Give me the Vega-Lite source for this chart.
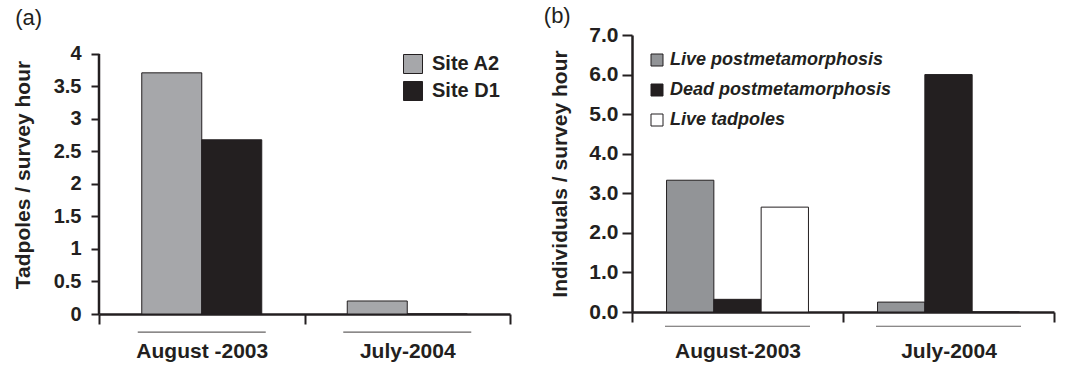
{
  "$schema": "https://vega.github.io/schema/vega-lite/v6.json",
  "padding": {"left": 12, "top": 5, "right": 5, "bottom": 5},
  "background": "white",
  "config": {
    "font": "Liberation Sans",
    "view": {"stroke": null},
    "axis": {
      "domainColor": "#231f20", "tickColor": "#231f20", "labelColor": "#231f20", "titleColor": "#231f20",
      "labelFont": "Liberation Sans", "titleFont": "Liberation Sans",
      "labelFontWeight": "bold", "titleFontWeight": "bold",
      "grid": false, "domainWidth": 2.5, "tickWidth": 2
    },
    "legend": {"labelFont": "Liberation Sans", "labelColor": "#231f20", "labelFontWeight": "bold", "symbolStrokeColor": "#231f20", "symbolStrokeWidth": 1, "symbolType": "square", "padding": 0},
    "title": {"font": "Liberation Sans", "fontWeight": "normal", "fontSize": 22, "anchor": "start", "color": "#231f20"}
  },
  "datasets": {
    "a": [
      {"period": "August -2003", "site": "Site A2", "value": 3.71},
      {"period": "August -2003", "site": "Site D1", "value": 2.68},
      {"period": "July-2004", "site": "Site A2", "value": 0.2},
      {"period": "July-2004", "site": "Site D1", "value": 0}
    ],
    "a_under": [{"period": "August -2003"}, {"period": "July-2004"}],
    "a_axis": [{"period": "August -2003", "low": 0, "high": 4}],
    "b": [
      {"period": "August-2003", "group": "Live postmetamorphosis", "value": 3.33},
      {"period": "August-2003", "group": "Dead postmetamorphosis", "value": 0.32},
      {"period": "August-2003", "group": "Live tadpoles", "value": 2.65},
      {"period": "July-2004", "group": "Live postmetamorphosis", "value": 0.25},
      {"period": "July-2004", "group": "Dead postmetamorphosis", "value": 6.0},
      {"period": "July-2004", "group": "Live tadpoles", "value": 0}
    ],
    "b_under": [{"period": "August-2003"}, {"period": "July-2004"}]
  },
  "resolve": {"scale": {"color": "independent", "x": "independent", "y": "independent", "xOffset": "independent"}, "legend": {"color": "independent"}},
  "columns": 2,
  "align": "none",
  "spacing": 32,
  "concat": [
    {
      "width": 411, "height": 279,
      "title": {"text": "(a)", "frame": "bounds", "dx": 3, "offset": 5},
      "layer": [
        {
          "data": {"name": "a"},
          "mark": {"type": "bar", "stroke": "#231f20", "strokeWidth": 1},
          "encoding": {
            "x": {"field": "period", "type": "nominal", "sort": null,
                  "scale": {"paddingInner": 0, "paddingOuter": 0},
                  "axis": {"title": null, "labelAngle": 0, "tickBand": "extent", "tickSize": 10, "labelPadding": 16, "labelFontSize": 21}},
            "xOffset": {"field": "site", "type": "nominal", "sort": null, "scale": {"paddingInner": 0, "paddingOuter": 0.7125}},
            "y": {"field": "value", "type": "quantitative", "scale": {"domain": [0, 4.292], "nice": false, "zero": false},
                  "axis": {"title": "Tadpoles / survey hour", "domain": false, "values": [0, 0.5, 1, 1.5, 2, 2.5, 3, 3.5, 4], "format": "~g", "tickSize": 8, "labelPadding": 10, "labelFontSize": 20, "titleFontSize": 21, "titlePadding": 20}},
            "color": {"field": "site", "type": "nominal", "sort": null,
                      "scale": {"domain": ["Site A2", "Site D1"], "range": ["#a6a7aa", "#231f20"]},
                      "legend": {"title": null, "orient": "none", "legendX": 304, "legendY": 19, "symbolSize": 361, "labelFontSize": 20, "labelOffset": 9, "rowPadding": 3}}
          }
        },
        {
          "data": {"name": "a_axis"},
          "mark": {"type": "rule", "color": "#231f20", "strokeWidth": 2.5},
          "encoding": {
            "x": {"field": "period", "type": "nominal", "sort": null, "bandPosition": 0,
                  "axis": {"title": null, "labelAngle": 0, "tickBand": "extent", "tickSize": 10, "labelPadding": 16, "labelFontSize": 21}},
            "y": {"field": "low", "type": "quantitative", "scale": {"domain": [0, 4.292], "nice": false, "zero": false},
                  "axis": {"title": "Tadpoles / survey hour", "domain": false, "values": [0, 0.5, 1, 1.5, 2, 2.5, 3, 3.5, 4], "format": "~g", "tickSize": 8, "labelPadding": 10, "labelFontSize": 20, "titleFontSize": 21, "titlePadding": 20}},
            "y2": {"field": "high"}
          }
        },
        {
          "data": {"name": "a_under"},
          "mark": {"type": "tick", "size": 128, "thickness": 1.2, "color": "#231f20"},
          "encoding": {
            "x": {"field": "period", "type": "nominal", "sort": null,
                  "axis": {"title": null, "labelAngle": 0, "tickBand": "extent", "tickSize": 10, "labelPadding": 16, "labelFontSize": 21}},
            "y": {"datum": -0.28, "type": "quantitative", "scale": {"domain": [0, 4.292], "nice": false, "zero": false},
                  "axis": {"title": "Tadpoles / survey hour", "domain": false, "values": [0, 0.5, 1, 1.5, 2, 2.5, 3, 3.5, 4], "format": "~g", "tickSize": 8, "labelPadding": 10, "labelFontSize": 20, "titleFontSize": 21, "titlePadding": 20}}
          }
        }
      ]
    },
    {
      "width": 422, "height": 277,
      "title": {"text": "(b)", "frame": "bounds", "dx": -6, "offset": -4},
      "layer": [
        {
          "data": {"name": "b"},
          "mark": {"type": "bar", "stroke": "#231f20", "strokeWidth": 1},
          "encoding": {
            "x": {"field": "period", "type": "nominal", "sort": null,
                  "scale": {"paddingInner": 0, "paddingOuter": 0},
                  "axis": {"title": null, "labelAngle": 0, "tickBand": "extent", "tickSize": 10, "labelPadding": 18, "labelFontSize": 21}},
            "xOffset": {"field": "group", "type": "nominal", "sort": null, "scale": {"paddingInner": 0, "paddingOuter": 0.73}},
            "y": {"field": "value", "type": "quantitative", "scale": {"domain": [0, 7], "nice": false},
                  "axis": {"title": "Individuals / survey hour", "values": [0, 1, 2, 3, 4, 5, 6, 7], "format": ".1f", "tickSize": 10, "labelPadding": 4, "labelFontSize": 21, "titleFontSize": 21, "titlePadding": 18}},
            "color": {"field": "group", "type": "nominal", "sort": null,
                      "scale": {"domain": ["Live postmetamorphosis", "Dead postmetamorphosis", "Live tadpoles"], "range": ["#929497", "#231f20", "#ffffff"]},
                      "legend": {"title": null, "orient": "none", "legendX": 16, "legendY": 16, "symbolSize": 144, "labelFontSize": 18, "labelFontStyle": "italic", "labelOffset": 4, "rowPadding": 12, "labelLimit": 400}}
          }
        },
        {
          "data": {"name": "b_under"},
          "mark": {"type": "tick", "size": 145, "thickness": 1.2, "color": "#231f20"},
          "encoding": {
            "x": {"field": "period", "type": "nominal", "sort": null,
                  "axis": {"title": null, "labelAngle": 0, "tickBand": "extent", "tickSize": 10, "labelPadding": 18, "labelFontSize": 21}},
            "y": {"datum": -0.36, "type": "quantitative", "scale": {"domain": [0, 7], "nice": false},
                  "axis": {"title": "Individuals / survey hour", "values": [0, 1, 2, 3, 4, 5, 6, 7], "format": ".1f", "tickSize": 10, "labelPadding": 4, "labelFontSize": 21, "titleFontSize": 21, "titlePadding": 18}}
          }
        }
      ]
    }
  ]
}
